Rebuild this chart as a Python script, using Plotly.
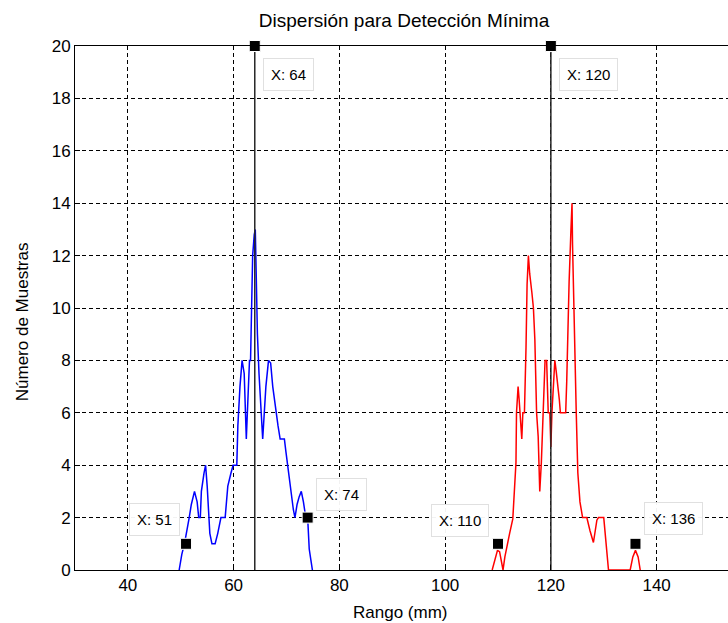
import plotly.graph_objects as go

# ---- data ----
blue_x = [49.7, 50.2, 50.7, 51.2, 51.6, 52.0, 52.6, 53.1, 53.4, 53.7, 53.9, 54.4, 54.7, 55.0,
          55.3, 55.5, 55.9, 56.5, 57.0, 57.6, 58.4, 58.9, 59.5, 59.9, 60.6, 60.8, 61.2, 61.6,
          62.0, 62.2, 62.4, 62.6, 63.0, 63.2, 63.4, 63.6, 63.9, 64.1, 64.3, 64.5, 64.8, 65.2,
          65.5, 65.8, 66.1, 66.6, 67.0, 67.4, 68.0, 68.4, 68.8, 69.6, 69.9, 70.2, 70.8, 71.3,
          71.6, 72.0, 72.4, 72.8, 73.2, 73.5, 74.0, 74.3, 74.6, 74.9]
blue_y = [0, 0.6, 1.0, 1.5, 2.0, 2.5, 3.0, 2.6, 2.0, 2.0, 3.0, 3.7, 4.0, 3.2,
          2.0, 1.4, 1.0, 1.0, 1.4, 2.0, 2.0, 3.2, 3.7, 4.0, 4.0, 5.5, 7.0, 8.0,
          7.5, 6.5, 5.0, 6.0, 8.0, 8.0, 10.5, 12.0, 12.8, 13.0, 11.0, 9.0, 7.5, 6.0,
          5.0, 6.0, 7.0, 8.0, 7.9, 7.0, 6.0, 5.5, 5.0, 5.0, 4.5, 4.0, 3.0, 2.3,
          2.0, 2.5, 2.8, 3.0, 2.6, 2.2, 2.0, 0.8, 0.4, 0]

red_x = [108.9, 109.4, 109.9, 110.3, 110.6, 110.95, 111.3, 111.7, 112.2, 112.8, 113.1, 113.4,
         113.5, 113.8, 114.0, 114.2, 114.5, 114.7, 115.0, 115.3, 115.5, 115.75, 116.0, 116.4,
         116.7, 116.97, 117.3, 117.6, 117.9, 118.2, 118.6, 118.9, 119.2, 119.5, 119.8, 120.0,
         120.2, 120.5, 120.75, 121.0, 121.25, 121.6, 121.8, 122.8, 123.0, 123.2, 123.45, 123.8,
         124.0, 124.1, 124.4, 124.8, 125.1, 125.5, 126.0, 126.8, 127.4, 128.05, 128.7, 129.0,
         130.0, 130.5, 130.9, 135.0, 135.5, 136.0, 136.5, 136.9]
red_y = [0, 0.35, 0.75, 0.7, 0.35, 0, 0.5, 0.95, 1.4, 1.95, 3.0, 4.1,
         6.0, 7.0, 6.5, 6.0, 5.0, 6.0, 6.0, 8.5, 10.9, 12.0, 11.3, 10.6,
         10.0, 8.8, 6.0, 5.1, 3.0, 4.1, 6.0, 8.0, 8.0, 6.0, 6.0, 4.7,
         6.0, 7.3, 8.0, 7.6, 7.2, 6.5, 6.0, 6.0, 7.2, 9.0, 11.0, 13.0,
         14.0, 12.4, 9.0, 6.0, 3.7, 2.6, 2.0, 2.0, 1.5, 1.05, 1.9, 2.0,
         2.0, 1.0, 0, 0, 0.5, 0.75, 0.5, 0]

cursor_x = [64, 120]
tip_x = [64, 120, 51, 74, 110, 136]
tip_y = [20, 20, 1, 2, 1, 1]
tip_text = ["X: 64", "X: 120", "X: 51", "X: 74", "X: 110", "X: 136"]
# box placement relative to the marker: (xanchor, yanchor, xshift, yshift)
tip_place = [("left", "top", 8, -12), ("left", "top", 8, -12),
             ("right", "bottom", -6, 8), ("left", "bottom", 8, 7),
             ("right", "bottom", -9, 7), ("left", "bottom", 9, 9)]

x_range = [30, 153.5]
y_range = [0, 20]

FONT = "Liberation Sans, Arial, sans-serif"

fig = go.Figure()
fig.add_trace(go.Scatter(x=blue_x, y=blue_y, mode="lines",
                         line=dict(color="#0000ff", width=1.5), showlegend=False))
fig.add_trace(go.Scatter(x=red_x, y=red_y, mode="lines",
                         line=dict(color="#ff0000", width=1.5), showlegend=False))
for cx in cursor_x:
    fig.add_trace(go.Scatter(x=[cx, cx], y=y_range, mode="lines",
                             line=dict(color="#262626", width=1.5), showlegend=False))
fig.add_trace(go.Scatter(x=tip_x, y=tip_y, mode="markers", cliponaxis=False,
                         marker=dict(symbol="square", size=11, color="black",
                                     line=dict(color="white", width=1)),
                         showlegend=False))

anns = []
for x, y, t, (xa, ya, xs, ys) in zip(tip_x, tip_y, tip_text, tip_place):
    anns.append(dict(x=x, y=y, xref="x", yref="y", text=t, showarrow=False,
                     xanchor=xa, yanchor=ya, xshift=xs, yshift=ys,
                     font=dict(family=FONT, size=15, color="black"),
                     bgcolor="rgba(255,255,255,0.95)", bordercolor="#e0e0e0",
                     borderwidth=1, borderpad=7))
anns.append(dict(text="Rango (mm)", xref="paper", yref="paper", x=0.498, y=-0.082,
                 xanchor="center", yanchor="middle", showarrow=False,
                 font=dict(family=FONT, size=17, color="black")))
anns.append(dict(text="Número de Muestras", xref="paper", yref="paper", x=-0.081, y=0.473,
                 xanchor="center", yanchor="middle", showarrow=False, textangle=-90,
                 font=dict(family=FONT, size=17, color="black")))

fig.update_layout(
    width=728, height=623,
    margin=dict(l=75, r=0, t=46, b=53),
    paper_bgcolor="white", plot_bgcolor="white",
    title=dict(text="Dispersión para Detección Mínima", xref="container", yref="container",
               x=0.555, y=1 - 20 / 623, xanchor="center", yanchor="middle",
               font=dict(family=FONT, size=19, color="black")),
    annotations=anns,
    showlegend=False,
)
fig.update_xaxes(range=x_range, dtick=20, tick0=0, showgrid=True, gridcolor="black",
                 griddash="4px,3px", gridwidth=1, zeroline=False,
                 showline=True, linecolor="black", linewidth=1, mirror=True,
                 ticks="inside", ticklen=5, tickcolor="black",
                 tickfont=dict(family=FONT, size=17, color="black"))
fig.update_yaxes(range=y_range, dtick=2, showgrid=True, gridcolor="black",
                 griddash="4px,3px", gridwidth=1, zeroline=False,
                 showline=True, linecolor="black", linewidth=1, mirror=False,
                 ticks="inside", ticklen=5, tickcolor="black",
                 tickfont=dict(family=FONT, size=17, color="black"))

fig.write_html("out.html")
